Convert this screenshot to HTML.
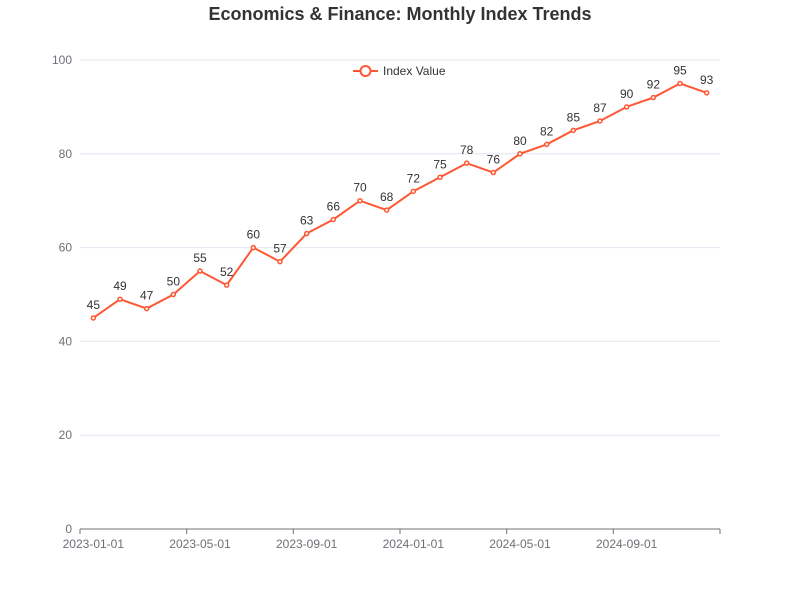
<!DOCTYPE html>
<html><head><meta charset="utf-8"><style>
body{margin:0;background:#fff;}
svg{font-family:"Liberation Sans",sans-serif;}
</style></head><body>
<svg id="chart" width="800" height="600">
<text x="400" y="20" text-anchor="middle" font-size="18" font-weight="bold" fill="#333">Economics &amp; Finance: Monthly Index Trends</text>
<g id="grid"></g><g id="axes"></g><g id="series"></g>
<g>
<line x1="353" y1="71" x2="378" y2="71" stroke="#ff5733" stroke-width="2"/>
<circle cx="365.5" cy="71" r="5" fill="#fff" stroke="#ff5733" stroke-width="2"/>
<text x="383" y="75" font-size="12" fill="#333">Index Value</text>
</g>
</svg>
<script>
const categories=["2023-01-01","2023-02-01","2023-03-01","2023-04-01","2023-05-01","2023-06-01","2023-07-01","2023-08-01","2023-09-01","2023-10-01","2023-11-01","2023-12-01","2024-01-01","2024-02-01","2024-03-01","2024-04-01","2024-05-01","2024-06-01","2024-07-01","2024-08-01","2024-09-01","2024-10-01","2024-11-01","2024-12-01"];
const values=[45,49,47,50,55,52,60,57,63,66,70,68,72,75,78,76,80,82,85,87,90,92,95,93];
const yTicks=[0,20,40,60,80,100];
const NS="http://www.w3.org/2000/svg";
const L=80,R=720,T=60,B=529;
const bw=(R-L)/categories.length;
const x=i=>L+bw*(i+0.5);
const y=v=>B-(v/100)*(B-T);
function mk(tag,attrs,parent){const e=document.createElementNS(NS,tag);for(const k in attrs)e.setAttribute(k,attrs[k]);document.getElementById(parent).appendChild(e);return e;}
yTicks.forEach(t=>{
 const g=mk('line',{x1:L,x2:R,y1:y(t),y2:y(t),stroke:t===0?'#6e7079':'#e0e6f1'},'grid');
 
 
 const tx=mk('text',{x:L-8,y:y(t)+4,'text-anchor':'end','font-size':12,fill:'#6e7079'},'axes');
 tx.textContent=t;
 
 
});
for(let i=0;i<=categories.length;i+=4){
 const tk=mk('line',{x1:L+bw*i,x2:L+bw*i,y1:B,y2:B+5,stroke:'#6e7079'},'axes');
 
 
 if(i<categories.length){
  const tx=mk('text',{x:x(i),y:B+19,'text-anchor':'middle','font-size':12,fill:'#6e7079'},'axes');
  tx.textContent=categories[i];
  
  
 }
}
const p=mk('polyline',{points:values.map((v,i)=>x(i)+','+y(v)).join(' '),fill:'none',stroke:'#ff5733','stroke-width':2},'series');


values.forEach((v,i)=>{
 const c=mk('circle',{cx:x(i),cy:y(v),r:2,fill:'#fff',stroke:'#ff5733','stroke-width':1.5},'series');
 
 
 const t=mk('text',{x:x(i),y:y(v)-9,'text-anchor':'middle','font-size':12,fill:'#333'},'series');
 t.textContent=v;
 
 
});
</script>
</body></html>
